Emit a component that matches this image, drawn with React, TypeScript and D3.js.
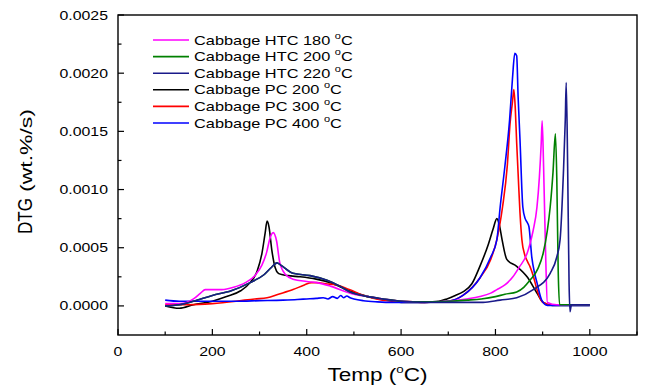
import React from "react";
import * as d3 from "d3";

// ---- Data (temperature °C, DTG in units of 1e-4 wt.%/s) ----
const htc180X = [100,130,160,175,185,200,220,245,270,290,305,315,322,329,336,343,355,371,400,421,450,492,530,562,600,650,700,740,767,790,803,820,837,850,867,873,880,888,893,897,899,902,906,910,930,960,1000];
const htc180Y = [0.2,0.2,0.6,1.1,1.4,1.4,1.4,1.6,2.0,2.6,3.5,4.6,5.8,6.3,5.6,3.7,2.7,2.3,2.1,2.0,1.7,1.1,0.8,0.6,0.4,0.35,0.4,0.6,0.8,1.1,1.4,1.8,2.5,3.3,4.5,5.3,6.5,8.5,11,14,15.9,12,5,0.3,0.1,0.1,0.1];

const htc200X = [100,130,160,200,240,280,310,325,337,345,371,407,443,470,492,530,562,600,650,700,740,770,800,820,845,860,873,890,901,910,916,922,927,930,933,936,945,970,1000];
const htc200Y = [0.0,0.1,0.4,0.9,1.3,2.0,2.7,3.3,3.7,3.5,2.8,2.6,2.2,1.7,1.2,0.8,0.6,0.4,0.35,0.4,0.5,0.6,0.8,1.0,1.2,1.6,2.2,3.2,4.5,6.5,8.5,11.5,14.8,11,3,0.1,0.1,0.1,0.1];

const htc220X = [100,130,160,200,240,280,310,325,337,345,371,407,443,470,492,530,562,600,650,700,740,774,810,845,880,916,930,937,944,948,950,953,956,958,961,970,1000];
const htc220Y = [0.0,0.1,0.4,0.9,1.3,2.0,2.7,3.3,3.7,3.5,2.8,2.6,2.2,1.7,1.2,0.8,0.6,0.4,0.3,0.3,0.3,0.3,0.5,0.7,1.4,2.8,4.2,5.7,11.4,16,19.2,12,2,-0.5,0.1,0.1,0.1];

const pc200X = [100,130,160,200,230,260,280,295,305,312,316,320,326,333,340,347,360,386,420,450,490,530,570,600,640,680,697,715,731,750,767,785,795,803,808,814,824,845,867,888,901,920,1000];
const pc200Y = [0.0,-0.2,0.1,0.4,0.8,1.3,2.0,3.0,4.5,6.3,7.3,6.8,4.8,3.3,2.8,2.7,2.6,2.5,2.3,2.0,1.3,0.8,0.5,0.3,0.3,0.4,0.6,0.9,1.2,1.9,3.4,5.3,6.6,7.5,7.0,5.7,4.0,3.4,2.5,1.1,0.3,0.05,0.05];

const pc300X = [100,150,200,250,290,316,340,371,395,410,421,440,464,490,527,560,600,650,700,731,767,790,803,815,825,831,836,839,842,845,848,852,856,862,868,873,880,888,895,901,920,1000];
const pc300Y = [0.1,0.1,0.2,0.4,0.6,0.7,1.0,1.4,1.8,2.0,2.0,1.9,1.8,1.4,0.8,0.5,0.4,0.3,0.4,0.9,2.4,4.0,5.7,8.5,12,15.7,17.5,18.6,17,14,11.4,8,5.7,4.4,3.8,3.4,2.6,1.4,0.6,0.3,0.1,0.1];

const pc400X = [100,130,160,200,250,300,350,380,400,420,435,445,455,465,472,478,485,492,500,520,550,580,600,650,700,731,767,790,803,810,820,830,836,841,845,848,852,858,863,867,871,877,883,888,898,910,1000];
const pc400Y = [0.5,0.4,0.4,0.4,0.4,0.45,0.5,0.55,0.6,0.65,0.7,0.6,0.8,0.65,0.9,0.7,0.85,0.7,0.6,0.45,0.35,0.3,0.3,0.3,0.4,0.9,2.4,4.2,5.7,8.5,12,16,19.5,21.7,21.5,18,14.3,8.5,7.5,7.2,6.8,4.2,2.8,2.0,0.5,0.05,0.05];

const seriesNames = ["Cabbage HTC 180 ", "Cabbage HTC 200 ", "Cabbage HTC 220 ", "Cabbage PC 200 ", "Cabbage PC 300 ", "Cabbage PC 400 "];
const seriesColors = ["#FF00FF", "#008000", "#1A1A8A", "#000000", "#FF0000", "#0000FF"];
const seriesX = [htc180X, htc200X, htc220X, pc200X, pc300X, pc400X];
const seriesY = [htc180Y, htc200Y, htc220Y, pc200Y, pc300Y, pc400Y];

const xTicks = [0, 200, 400, 600, 800, 1000];
const xMinor = [100, 300, 500, 700, 900, 1100];
const yTicks = [0, 0.0005, 0.001, 0.0015, 0.002, 0.0025];
const yMinor = [0.00025, 0.00075, 0.00125, 0.00175, 0.00225];

const W = 645, H = 388;
const L = 118, R = 637, T = 15, B = 335;
const FONT = "'Liberation Sans', Arial, sans-serif";
const SX = 1.22; // horizontal stretch of the reference text

function SText(props: { x: number; y: number; size: number; anchor?: string; children: React.ReactNode }) {
  return (
    <text
      transform={`translate(${props.x},${props.y}) scale(${SX},1)`}
      fontSize={props.size}
      textAnchor={props.anchor || "start"}
      fill="#000"
    >
      {props.children}
    </text>
  );
}

export default function App() {
  const x = d3.scaleLinear().domain([0, 1100]).range([L, R]);
  const y = d3.scaleLinear().domain([-0.00025, 0.0025]).range([B, T]);
  const line = d3
    .line<[number, number]>()
    .x((d) => x(d[0]))
    .y((d) => y(d[1] * 1e-4))
    .curve(d3.curveMonotoneX);

  const order = [3, 4, 5, 0, 1, 2];

  return (
    <svg width={W} height={H} style={{ position: "absolute", left: 0, top: 0, background: "#fff" }} fontFamily={FONT}>
      <rect x={0} y={0} width={W} height={H} fill="#fff" />
      <defs>
        <clipPath id="plotclip">
          <rect x={L} y={T} width={R - L} height={B - T} />
        </clipPath>
      </defs>
      <g clipPath="url(#plotclip)">
        {order.map((i) => {
          const pts: [number, number][] = seriesX[i].map((v, k) => [v, seriesY[i][k]]);
          return (
            <path key={i} d={line(pts) || ""} fill="none" stroke={seriesColors[i]} strokeWidth={1.6} strokeLinejoin="round" />
          );
        })}
      </g>
      <rect x={L} y={T} width={R - L} height={B - T} fill="none" stroke="#000" strokeWidth={1.4} />
      {xTicks.map((t) => (
        <g key={"xt" + t}>
          <line x1={x(t)} x2={x(t)} y1={B} y2={B - 6} stroke="#000" strokeWidth={1.2} />
          <SText x={x(t)} y={B + 21} size={13} anchor="middle">{t}</SText>
        </g>
      ))}
      {xMinor.map((t) => (
        <line key={"xm" + t} x1={x(t)} x2={x(t)} y1={B} y2={B - 3.5} stroke="#000" strokeWidth={1.2} />
      ))}
      {yTicks.map((t) => (
        <g key={"yt" + t}>
          <line x1={L} x2={L + 6} y1={y(t)} y2={y(t)} stroke="#000" strokeWidth={1.2} />
          <SText x={L - 10} y={y(t) + 4.5} size={13} anchor="end">{t.toFixed(4)}</SText>
        </g>
      ))}
      {yMinor.map((t) => (
        <line key={"ym" + t} x1={L} x2={L + 3.5} y1={y(t)} y2={y(t)} stroke="#000" strokeWidth={1.2} />
      ))}
      {/* x title */}
      <SText x={(L + R) / 2} y={381} size={18.5} anchor="middle">
        Temp (<tspan fontSize={11} dy={-8}>o</tspan><tspan dy={8}>C)</tspan>
      </SText>
      {/* y title */}
      <g transform={`translate(32,0) scale(${SX},1)`}>
        <text transform={`translate(0,234) rotate(-90)`} fontSize={17} fill="#000" textLength={36} lengthAdjust="spacingAndGlyphs">DTG</text>
        <text transform={`translate(0,192) rotate(-90)`} fontSize={14} fill="#000" textLength={83} lengthAdjust="spacingAndGlyphs">(wt.%/s)</text>
      </g>
      {/* legend */}
      {seriesNames.map((n, i) => {
        const cy = 40 + i * 16.6;
        return (
          <g key={"lg" + i}>
            <line x1={153} x2={189} y1={cy} y2={cy} stroke={seriesColors[i]} strokeWidth={1.6} />
            <SText x={194} y={cy + 4.5} size={13.4}>
              {n}<tspan fontSize={9} dy={-6}>o</tspan><tspan dy={6}>C</tspan>
            </SText>
          </g>
        );
      })}
    </svg>
  );
}
